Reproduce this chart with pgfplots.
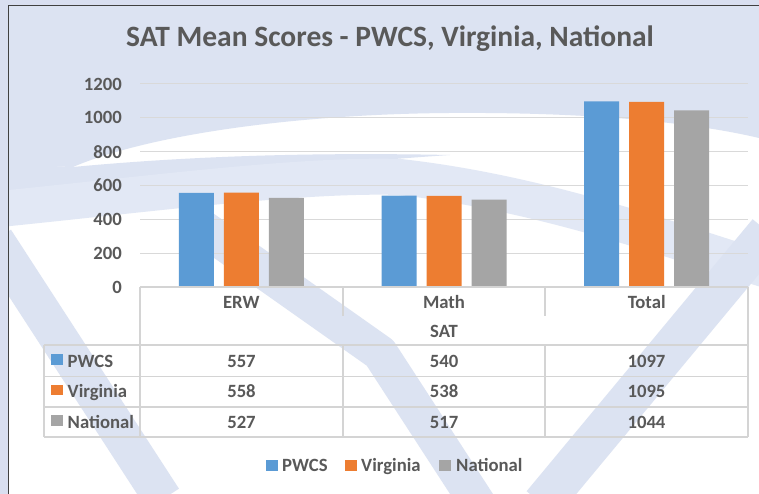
\documentclass[border=0pt]{standalone}
\usepackage{fontspec}
\setmainfont{Carlito}
\usepackage{pgfplots}
\pgfplotsset{compat=1.18}
\definecolor{wm}{RGB}{220,227,242}
\definecolor{wml}{RGB}{226,232,245}
\definecolor{bgout}{RGB}{217,223,240}
\definecolor{txt}{RGB}{89,89,89}
\definecolor{gridc}{RGB}{217,217,217}
\definecolor{tabc}{RGB}{212,212,212}
\definecolor{pwcs}{RGB}{91,155,213}
\definecolor{va}{RGB}{237,125,49}
\definecolor{nat}{RGB}{165,165,165}
\definecolor{framec}{RGB}{64,64,64}
\newcommand\fs{\fontsize{18.7bp}{22bp}\selectfont\bfseries}
\begin{document}
\begin{tikzpicture}[x=1bp,y=1bp]
\useasboundingbox (0,0) rectangle (759,494);
\begin{scope}
\clip (0,0) rectangle (759,494);
\fill[white] (0,0) rectangle (759,494);
% watermark
\fill[wm] (8.3,488.3) -- (759,488.3) -- (759,356) .. controls (700,370) and (600,382) .. (450,381) .. controls (300,380) and (150,360) .. (73,327) -- (8.3,329) -- cycle;
\fill[wm] (8.3,330) -- (73,327) .. controls (180,337) and (300,342) .. (450,339) .. controls (300,329) and (180,314) .. (63,297) -- (8.3,294) -- cycle;
\draw[wml, line width=36bp] (-10,284) .. controls (150,300) and (300,320) .. (400,317) .. controls (550,300) and (680,250) .. (780,220);
\draw[wm, line width=38bp] (-5,254) -- (163,-5);
\draw[wm, line width=36bp, line join=round] (200,268) -- (380,141) -- (478,-10);
\draw[wm, line width=40bp] (768,262) -- (542,-10);
% outside frame
\fill[bgout] (0,0) rectangle (8.3,494);
\fill[bgout] (0,488.3) rectangle (759,494);
\draw[framec, line width=1.5bp] (8.3,-1) -- (8.3,488.3) -- (760,488.3);
\end{scope}
\begin{axis}[
  at={(140bp,207bp)}, anchor=south west,
  scale only axis, width=608bp, height=203bp,
  xmin=-0.5, xmax=2.5, ymin=0, ymax=1200,
  ybar=10bp, bar width=35bp,
  xtick={0,1,2}, xticklabels={ERW,Math,Total},
  ytick={0,200,...,1200},
  major tick length=0,
  axis line style={draw=none},
  ymajorgrids, grid style={gridc, line width=1bp},
  tick label style={font=\fs, text=txt},
  /pgf/number format/assume math mode=true,
  /pgf/number format/1000 sep={},
  yticklabel style={anchor=east, inner sep=0pt, xshift=-18bp},
  xticklabel style={anchor=base, inner sep=0pt, yshift=-21.3bp},
  xlabel={SAT},
  xlabel style={at={(axis description cs:0.5,0)}, anchor=base, inner sep=0pt, yshift=-50.3bp, font=\fs, text=txt},
  title={SAT Mean Scores - PWCS, Virginia, National},
  title style={at={(axis description cs:0.4112,1)}, anchor=base, inner sep=0pt, yshift=32bp, font=\fontsize{29.5bp}{34bp}\selectfont\bfseries, text=txt},
  clip=false,
]
\addplot[fill=pwcs, draw=none] coordinates {(0,557) (1,540) (2,1097)};
\addplot[fill=va, draw=none] coordinates {(0,558) (1,538) (2,1095)};
\addplot[fill=nat, draw=none] coordinates {(0,527) (1,517) (2,1044)};
\end{axis}
% data table
\begin{scope}[tabc, line width=1.3bp]
\draw (140,207) -- (748,207);
\draw (140,207) -- (140,57);
\draw (748,207) -- (748,57);
\draw (343,207) -- (343,178);
\draw (545,207) -- (545,178);
\draw (44,149) -- (748,149);
\draw (44,117.3) -- (748,117.3);
\draw (44,87) -- (748,87);
\draw (44,57) -- (748,57);
\draw (44,149) -- (44,57);
\draw (343,149) -- (343,57);
\draw (545,149) -- (545,57);
\end{scope}
\begin{scope}[every node/.style={inner sep=0pt, anchor=base, text=txt, font=\fs}]
\fill[pwcs] (51,129) rectangle (63,139.5);
\fill[va] (51,98.6) rectangle (63,109.1);
\fill[nat] (51,68) rectangle (63,78.5);
\node[anchor=base west] at (67.5,126.7) {PWCS};
\node[anchor=base west] at (67.5,96.3) {Virginia};
\node[anchor=base west] at (67.5,65.7) {National};
\node at (241.5,126.7) {557};
\node at (444,126.7) {540};
\node at (646.5,126.7) {1097};
\node at (241.5,96.3) {558};
\node at (444,96.3) {538};
\node at (646.5,96.3) {1095};
\node at (241.5,65.7) {527};
\node at (444,65.7) {517};
\node at (646.5,65.7) {1044};
% legend
\fill[pwcs] (266,22.5) rectangle (278,34.3);
\node[anchor=base west] at (282,22.3) {PWCS};
\fill[va] (345,22.5) rectangle (357,34.3);
\node[anchor=base west] at (361,22.3) {Virginia};
\fill[nat] (438.5,22.5) rectangle (450.5,34.3);
\node[anchor=base west] at (456,22.3) {National};
\end{scope}
\end{tikzpicture}
\end{document}
